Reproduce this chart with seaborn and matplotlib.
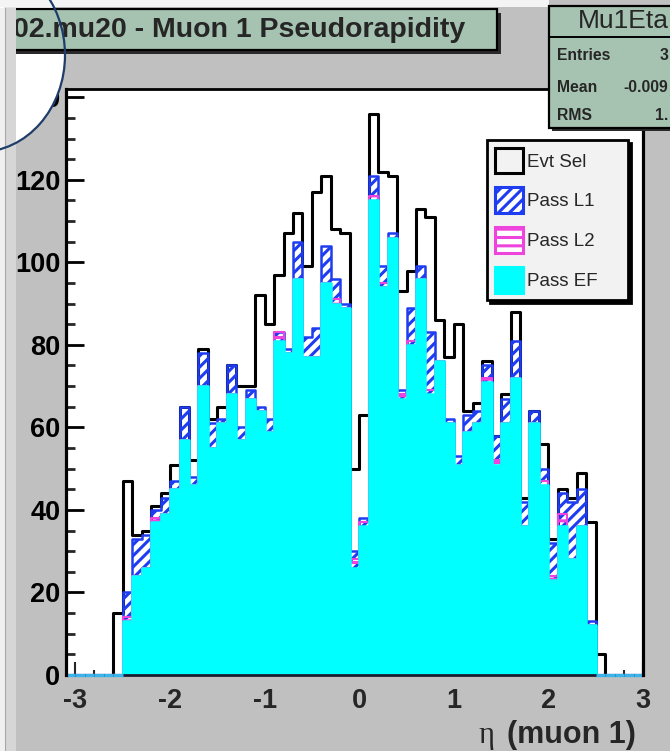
import numpy as np
import pandas as pd
import matplotlib
matplotlib.use("Agg")
import matplotlib.pyplot as plt
from matplotlib.patches import Rectangle, Ellipse, Patch
from matplotlib.lines import Line2D
from matplotlib.ticker import MultipleLocator
import seaborn as sns

# ---- data: muon 1 pseudorapidity, counts per 0.1-wide eta bin ----
x_min, x_max, bin_width = -3.1, 3.0, 0.1
first_bin_low = -2.6          # lower edge of the first bin listed below

evt_sel = [15, 47, 34, 35, 41, 44, 51, 65, 52, 79, 62, 65, 75, 70, 70, 92, 85, 97, 107, 112, 99, 117, 121, 108, 107, 50,
           63, 136, 122, 121, 93, 98, 113, 111, 86, 77, 85, 64, 66, 76, 58, 68, 88, 43, 64, 56, 33, 45, 43, 49, 37, 5]
pass_l1 = [0, 20, 33, 34, 40, 43, 47, 65, 48, 78, 61, 62, 75, 60, 69, 65, 62, 83, 79, 105, 82, 84, 104, 96, 90, 30,
           38, 121, 99, 107, 69, 89, 99, 83, 76, 62, 53, 63, 64, 75, 58, 67, 81, 42, 64, 50, 32, 44, 42, 45, 13, 0]
pass_l2 = [0, 14, 24, 26, 38, 39, 45, 57, 46, 70, 55, 61, 68, 57, 67, 64, 59, 83, 78, 96, 77, 77, 95, 91, 89, 28,
           37, 116, 95, 106, 68, 81, 96, 69, 76, 61, 51, 59, 61, 72, 52, 61, 72, 36, 61, 47, 24, 39, 28, 36, 12, 0]
pass_ef = [0, 13, 24, 26, 37, 39, 45, 57, 46, 70, 55, 61, 68, 57, 67, 64, 59, 81, 78, 96, 77, 77, 95, 90, 89, 26,
           36, 115, 94, 106, 67, 80, 96, 68, 76, 61, 51, 59, 61, 71, 51, 61, 72, 36, 61, 46, 23, 36, 28, 36, 12, 0]

series_names = ["Evt Sel", "Pass L1", "Pass L2", "Pass EF"]

x_ticks_major, x_ticks_minor = 1.0, 0.2
y_ticks_major, y_ticks_minor = 20, 5
y_top = 142

# ---- bin grid ----
edges = np.round(np.arange(x_min, x_max + bin_width / 2, bin_width), 2)
n_bins = len(edges) - 1
lead = int(round((first_bin_low - x_min) / bin_width))
centers = edges[:-1] + bin_width / 2


def full_range(values):
    vals = np.asarray(values, dtype=float)
    return np.pad(vals, (lead, n_bins - lead - len(vals)))


counts = {name: full_range(v) for name, v in zip(series_names, [evt_sel, pass_l1, pass_l2, pass_ef])}
df = pd.DataFrame({"eta": np.tile(centers, 4),
                   "count": np.concatenate([counts[n] for n in series_names]),
                   "series": np.repeat(series_names, n_bins)})
bin_list = [float(e) for e in edges]

# ---- style ----
sns.set_theme(style="white")
plt.rcParams["font.family"] = ["Liberation Sans", "DejaVu Sans"]
plt.rcParams["font.weight"] = "bold"
plt.rcParams["axes.unicode_minus"] = False
plt.rcParams["hatch.linewidth"] = 2.2

CANVAS = "#c0c0c0"
SAGE = "#a6c2b0"
BLUE = "#1e3cf0"
MAGENTA = "#ee44dd"
CYAN = "#00ffff"
BASE_BLUE = "#3ab4ea"
L1_HATCH = "///"
L2_HATCH = "--"

W, H = 670, 751
fig = plt.figure(figsize=(W / 100, H / 100), dpi=100, facecolor=CANVAS)


def fx(px):
    return px / W


def fy(py):
    return 1 - py / H


ax = fig.add_axes([fx(66), fy(675), fx(643) - fx(66), fy(89) - fy(675)])
ax.set_facecolor("white")


def sub(name):
    return df[df["series"] == name].reset_index(drop=True)


# Evt Sel: black outline only
sns.histplot(data=sub("Evt Sel"), x="eta", weights="count", bins=bin_list, element="step", fill=False,
             color="black", linewidth=2.2, ax=ax, zorder=2)
# Pass L1: blue hatched
sns.histplot(data=sub("Pass L1"), x="eta", weights="count", bins=bin_list, element="step", fill=True,
             color=BLUE, facecolor="none", edgecolor=BLUE, hatch=L1_HATCH, linewidth=1.8, ax=ax, zorder=3)
# Pass L2: magenta hatched
sns.histplot(data=sub("Pass L2"), x="eta", weights="count", bins=bin_list, element="step", fill=True,
             color=MAGENTA, facecolor="none", edgecolor=MAGENTA, hatch=L2_HATCH, linewidth=1.5, ax=ax, zorder=4)
# Pass EF: solid cyan
sns.histplot(data=sub("Pass EF"), x="eta", weights="count", bins=bin_list, element="step", fill=True,
             color=CYAN, facecolor=CYAN, edgecolor=CYAN, linewidth=1.8, ax=ax, zorder=5)

# light-blue outline of the EF histogram where it sits on zero
zero = counts["Pass EF"] == 0
ax.hlines(np.zeros(zero.sum()), edges[:-1][zero], edges[1:][zero], colors=BASE_BLUE,
          linewidth=2.4, zorder=7, clip_on=False)

ax.set_xlim(x_min, x_max)
ax.set_ylim(0, y_top)
ax.set_xlabel("")
ax.set_ylabel("")
ax.set_axisbelow(True)

ax.xaxis.set_major_locator(MultipleLocator(x_ticks_major))
ax.xaxis.set_minor_locator(MultipleLocator(x_ticks_minor))
ax.yaxis.set_major_locator(MultipleLocator(y_ticks_major))
ax.yaxis.set_minor_locator(MultipleLocator(y_ticks_minor))
ax.tick_params(axis="y", which="major", direction="in", length=13, width=2.0,
               labelsize=19.5, pad=4, left=True, colors="black")
ax.tick_params(axis="y", which="minor", direction="in", length=6.5, width=2.0, left=True)
ax.tick_params(axis="x", which="major", direction="in", length=9.5, width=1.5,
               labelsize=19.5, pad=9, bottom=True)
ax.tick_params(axis="x", which="minor", direction="in", length=3.3, width=1.5, bottom=True)

for side, lw in [("left", 2.3), ("top", 2.0), ("right", 2.3), ("bottom", 2.0)]:
    ax.spines[side].set_visible(True)
    ax.spines[side].set_linewidth(lw)
    ax.spines[side].set_color("black")
    ax.spines[side].set_zorder(10)
ax.spines["bottom"].set_color("#1c1c30")
ax.spines["bottom"].set_zorder(6)

# legend
handles = [
    Patch(facecolor="#f2f2f2", edgecolor="black", linewidth=2.2, label=series_names[0]),
    Patch(facecolor="white", edgecolor=BLUE, hatch=L1_HATCH, linewidth=2.2, label=series_names[1]),
    Patch(facecolor="white", edgecolor=MAGENTA, hatch=L2_HATCH, linewidth=2.2, label=series_names[2]),
    Patch(facecolor=CYAN, edgecolor=CYAN, linewidth=2.2, label=series_names[3]),
]
leg = ax.legend(handles=handles, loc="upper left",
                bbox_to_anchor=(fx(487), fy(328), fx(628) - fx(487), fy(140) - fy(328)),
                bbox_transform=fig.transFigure, mode="expand", borderaxespad=0,
                prop={"weight": "normal", "size": 13.5}, handlelength=1.5, handleheight=1.75,
                handletextpad=0.25, labelspacing=0.74, borderpad=0.4, fancybox=False,
                framealpha=1, facecolor="#f2f2f2", edgecolor="black",
                shadow={"color": "black", "alpha": 1})
leg.get_frame().set_linewidth(2.0)
leg.set_zorder(20)

# ---- canvas decorations ----
# round marker in the top-left corner (fill)
fig.patches.append(Ellipse((fx(-20), fy(55)), 170 / W, 194 / H, transform=fig.transFigure,
                           facecolor="white", edgecolor="none", zorder=1))
# top band
fig.patches.append(Rectangle((0, fy(7)), fx(549), 7 / H, transform=fig.transFigure,
                             facecolor="#f4f4f4", edgecolor="none", zorder=1.5))
# title box
fig.patches.append(Rectangle((fx(9), fy(54)), fx(497) - fx(5), 41 / H, transform=fig.transFigure,
                             facecolor="#2a2a2a", edgecolor="none", zorder=2))
fig.patches.append(Rectangle((fx(5), fy(50)), fx(497) - fx(5), 41 / H, transform=fig.transFigure,
                             facecolor=SAGE, edgecolor="black", linewidth=1.6, zorder=2.1))
fig.text(fx(13), fy(30), "02.mu20 - Muon 1 Pseudorapidity", ha="left", va="center",
         fontsize=20.5, weight="bold", zorder=2.2)
# left strip of the pad
fig.patches.append(Rectangle((0, 0), fx(16), fy(8), transform=fig.transFigure,
                             facecolor="#d6d6d6", edgecolor="none", zorder=3))
fig.patches.append(Rectangle((0, 0), fx(5), fy(8), transform=fig.transFigure,
                             facecolor="#f0f0f0", edgecolor="none", zorder=3.1))
fig.add_artist(Line2D([fx(5), fx(5)], [0, fy(8)], color="#a8a8a8", linewidth=0.8, zorder=3.2))
# round marker outline
fig.patches.append(Ellipse((fx(-20), fy(55)), 170 / W, 194 / H, transform=fig.transFigure,
                           facecolor="none", edgecolor="#1f3d6b", linewidth=1.6, zorder=30))

# statistics box
fig.patches.append(Rectangle((fx(552), fy(131)), 0.2, (131 - 9) / H, transform=fig.transFigure,
                             facecolor="#2a2a2a", edgecolor="none", zorder=25))
fig.patches.append(Rectangle((fx(549), fy(128)), 0.2, (128 - 6) / H, transform=fig.transFigure,
                             facecolor=SAGE, edgecolor="black", linewidth=1.6, zorder=25.1))
fig.add_artist(Line2D([fx(549), 1.0], [fy(37), fy(37)], color="black", linewidth=1.4, zorder=25.2))
fig.text(fx(578), fy(21), "Mu1Eta", ha="left", va="center", fontsize=19, weight="normal", zorder=26)
for label, value, py in [("Entries", "3", 56), ("Mean", "-0.009", 87), ("RMS", "1.", 115)]:
    fig.text(fx(557), fy(py), label, ha="left", va="center", fontsize=11.3, weight="bold", zorder=26)
    fig.text(fx(668), fy(py), value, ha="right", va="center", fontsize=11.3, weight="bold", zorder=26)

# axis title
fig.text(fx(494), fy(735), "\u03b7", ha="right", va="center", fontsize=22,
         family=["Liberation Serif", "DejaVu Serif"], weight="normal")
fig.text(fx(636), fy(735), "(muon 1)", ha="right", va="center", fontsize=22, weight="bold")

fig.savefig("out.png", dpi=100, facecolor=CANVAS)
